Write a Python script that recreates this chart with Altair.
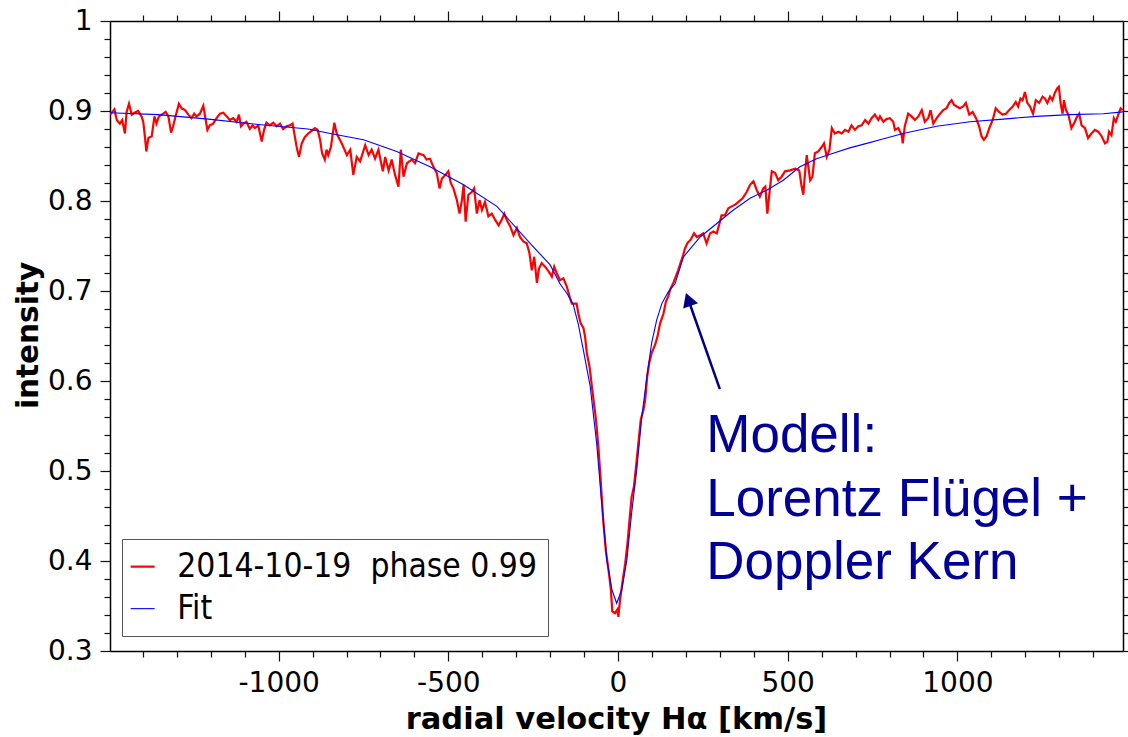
import altair as alt
import pandas as pd

# Observed H-alpha profile (radial velocity in km/s, normalised intensity)
spec_v = [
    -1497, -1492, -1484, -1477, -1468, -1461, -1453, -1448, -1441, -1433, -1425, -1414, -1404, -1399,
    -1394, -1390, -1384, -1374, -1366, -1360, -1353, -1340, -1333, -1325, -1317, -1311, -1304, -1294,
    -1286, -1276, -1266, -1257, -1249, -1242, -1232, -1222, -1215, -1210, -1203, -1193, -1183, -1173,
    -1163, -1153, -1144, -1134, -1124, -1117, -1111, -1104, -1095, -1085, -1077, -1070, -1060, -1050,
    -1043, -1036, -1026, -1016, -1006, -996, -987, -977, -967, -959, -952, -947, -940, -932, -923,
    -913, -903, -893, -885, -878, -872, -864, -859, -854, -846, -836, -829, -814, -799, -789, -780,
    -770, -760, -745, -735, -726, -716, -706, -693, -686, -676, -667, -657, -647, -640, -632, -622,
    -608, -598, -588, -573, -564, -554, -544, -534, -526, -519, -509, -500, -493, -485, -475, -467,
    -460, -455, -449, -441, -431, -424, -416, -408, -401, -392, -382, -372, -362, -352, -343, -335,
    -328, -318, -308, -298, -289, -279, -269, -261, -254, -247, -239, -233, -225, -215, -205, -195,
    -188, -181, -171, -161, -151, -143, -136, -122, -117, -110, -102, -97, -92, -84, -78, -71, -65,
    -58, -53, -48, -43, -36, -28, -21, -17, -9, -2, 1, 6, 14, 21, 28, 33, 40, 47, 53, 60, 67, 75,
    80, 86, 92, 99, 109, 116, 124, 134, 141, 148, 155, 163, 170, 177, 185, 192, 197, 204, 214, 224,
    232, 242, 251, 261, 271, 281, 291, 299, 305, 315, 325, 335, 345, 355, 367, 379, 389, 399, 409,
    418, 428, 434, 440, 446, 453, 463, 472, 482, 492, 507, 522, 534, 541, 546, 551, 556, 561, 566,
    573, 580, 590, 600, 607, 615, 623, 630, 639, 649, 659, 669, 679, 688, 698, 708, 718, 728, 738,
    747, 757, 767, 772, 782, 791, 801, 811, 816, 826, 836, 839, 845, 855, 865, 875, 885, 895, 904,
    914, 921, 929, 939, 949, 958, 968, 976, 983, 990, 998, 1007, 1017, 1025, 1035, 1045, 1055, 1064,
    1071, 1078, 1086, 1094, 1104, 1113, 1123, 1133, 1143, 1153, 1163, 1172, 1179, 1186, 1192, 1199,
    1206, 1214, 1223, 1231, 1241, 1251, 1258, 1265, 1273, 1280, 1287, 1294, 1299, 1304, 1310, 1314,
    1320, 1327, 1336, 1346, 1353, 1359, 1366, 1376, 1385, 1395, 1405, 1415, 1425, 1435, 1442, 1447,
    1454, 1461, 1467, 1474, 1481, 1487,
]
spec_i = [
    0.896, 0.898, 0.902, 0.890, 0.886, 0.890, 0.875, 0.899, 0.908, 0.896, 0.898, 0.900, 0.894, 0.888,
    0.871, 0.855, 0.870, 0.872, 0.894, 0.886, 0.894, 0.897, 0.899, 0.894, 0.876, 0.883, 0.894, 0.908,
    0.903, 0.901, 0.896, 0.892, 0.897, 0.894, 0.897, 0.906, 0.890, 0.879, 0.884, 0.886, 0.892, 0.897,
    0.898, 0.894, 0.890, 0.892, 0.888, 0.896, 0.883, 0.886, 0.888, 0.880, 0.884, 0.881, 0.884, 0.866,
    0.879, 0.887, 0.884, 0.887, 0.883, 0.886, 0.880, 0.883, 0.884, 0.886, 0.871, 0.860, 0.849, 0.864,
    0.871, 0.875, 0.878, 0.881, 0.879, 0.868, 0.853, 0.846, 0.857, 0.851, 0.860, 0.887, 0.875, 0.864,
    0.851, 0.857, 0.829, 0.849, 0.844, 0.862, 0.851, 0.857, 0.847, 0.857, 0.833, 0.849, 0.834, 0.846,
    0.829, 0.816, 0.857, 0.827, 0.842, 0.846, 0.842, 0.853, 0.851, 0.846, 0.847, 0.838, 0.831, 0.814,
    0.825, 0.829, 0.833, 0.820, 0.814, 0.801, 0.786, 0.801, 0.818, 0.777, 0.807, 0.810, 0.814, 0.786,
    0.801, 0.790, 0.799, 0.783, 0.786, 0.779, 0.773, 0.779, 0.786, 0.779, 0.772, 0.762, 0.770, 0.760,
    0.755, 0.753, 0.742, 0.723, 0.738, 0.709, 0.725, 0.731, 0.727, 0.722, 0.716, 0.727, 0.720, 0.712,
    0.714, 0.705, 0.694, 0.686, 0.686, 0.675, 0.664, 0.659, 0.649, 0.631, 0.616, 0.597, 0.575, 0.557,
    0.527, 0.501, 0.471, 0.442, 0.412, 0.390, 0.368, 0.344, 0.342, 0.346, 0.338, 0.357, 0.379, 0.397,
    0.420, 0.442, 0.471, 0.483, 0.505, 0.531, 0.557, 0.568, 0.579, 0.605, 0.620, 0.631, 0.640, 0.649,
    0.664, 0.675, 0.688, 0.694, 0.703, 0.709, 0.716, 0.723, 0.732, 0.740, 0.747, 0.753, 0.757, 0.764,
    0.760, 0.762, 0.764, 0.753, 0.764, 0.766, 0.764, 0.775, 0.784, 0.784, 0.792, 0.794, 0.796, 0.799,
    0.803, 0.810, 0.818, 0.822, 0.812, 0.805, 0.814, 0.816, 0.786, 0.808, 0.833, 0.831, 0.823, 0.827,
    0.833, 0.834, 0.836, 0.834, 0.816, 0.807, 0.831, 0.851, 0.838, 0.823, 0.827, 0.853, 0.855, 0.860,
    0.864, 0.849, 0.857, 0.881, 0.875, 0.877, 0.875, 0.879, 0.877, 0.884, 0.879, 0.883, 0.884, 0.890,
    0.886, 0.892, 0.896, 0.890, 0.894, 0.888, 0.891, 0.892, 0.888, 0.879, 0.881, 0.873, 0.864, 0.883,
    0.897, 0.894, 0.890, 0.894, 0.901, 0.888, 0.892, 0.901, 0.886, 0.892, 0.897, 0.901, 0.903, 0.909,
    0.912, 0.907, 0.905, 0.903, 0.905, 0.909, 0.896, 0.899, 0.892, 0.883, 0.872, 0.868, 0.872, 0.881,
    0.890, 0.903, 0.899, 0.896, 0.897, 0.901, 0.905, 0.910, 0.905, 0.914, 0.912, 0.921, 0.909, 0.905,
    0.897, 0.912, 0.909, 0.916, 0.914, 0.909, 0.916, 0.912, 0.920, 0.925, 0.927, 0.909, 0.897, 0.912,
    0.901, 0.896, 0.881, 0.888, 0.894, 0.897, 0.884, 0.881, 0.870, 0.875, 0.879, 0.877, 0.872, 0.864,
    0.866, 0.877, 0.873, 0.892, 0.888, 0.896, 0.903, 0.901,
]

# Fitted model profile (Lorentz wings + Doppler core)
fit_v = [
    -1497, -1355, -1207, -1060, -913, -848, -750, -652, -554, -455, -357, -259, -200, -171, -150,
    -132, -117, -102, -82, -63, -48, -33, -18, -4, 11, 26, 40, 55, 70, 85, 99, 114, 129, 148, 168,
    193, 242, 291, 340, 389, 438, 487, 536, 585, 634, 683, 733, 772, 840, 939, 1037, 1135, 1233,
    1331, 1430, 1488,
]
fit_i = [
    0.898, 0.896, 0.891, 0.885, 0.880, 0.875, 0.868, 0.855, 0.838, 0.818, 0.794, 0.753, 0.729, 0.708,
    0.697, 0.685, 0.663, 0.634, 0.594, 0.531, 0.464, 0.401, 0.368, 0.353, 0.368, 0.401, 0.453, 0.501,
    0.560, 0.605, 0.642, 0.668, 0.686, 0.699, 0.708, 0.738, 0.760, 0.775, 0.790, 0.803, 0.812, 0.823,
    0.838, 0.847, 0.853, 0.859, 0.864, 0.868, 0.875, 0.883, 0.888, 0.891, 0.894, 0.896, 0.897, 0.899,
]

series_names = ["2014-10-19\u00a0 phase 0.99", "Fit"]
series_colors = ["#ff0000", "#0000ff"]
series_widths = [2.2, 1.1]

note_lines = ["Modell:", "Lorentz Flügel +", "Doppler Kern"]
note_v = [260, 260, 260]
note_i = [0.521, 0.450, 0.380]

arrow_tail = (300, 0.591)
arrow_head = (207, 0.6906)

x_ticks = list(range(-1400, 1500, 100))
y_ticks = [round(0.30 + 0.02 * k, 2) for k in range(36)]

obs = pd.DataFrame({"v": spec_v, "I": spec_i, "series": series_names[0]})
fit = pd.DataFrame({"v": fit_v, "I": fit_i, "series": series_names[1]})
notes = pd.DataFrame({"v": note_v, "I": note_i, "txt": note_lines})
arrow = pd.DataFrame({"v": [arrow_tail[0]], "I": [arrow_tail[1]],
                      "v2": [arrow_head[0]], "I2": [arrow_head[1]]})

x_scale = alt.Scale(domain=[-1497, 1488], nice=False, zero=False)
y_scale = alt.Scale(domain=[0.3, 1.0], nice=False, zero=False)

x_major = "datum.value % 500 === 0"
y_major = "abs(datum.value * 10 - round(datum.value * 10)) < 0.001"

common_axis = dict(
    grid=False, domainColor="#000000", domainWidth=1.5,
    tickColor="#111111", tickWidth=1.2,
    labelFont="DejaVu Sans", labelFontSize=28, labelColor="#000000",
    labelOverlap=False, labelFlush=False,
)

x_axis = alt.Axis(
    orient="bottom", values=x_ticks,
    tickSize={"condition": {"test": x_major, "value": 10}, "value": 6},
    labelExpr="datum.value % 500 === 0 ? (datum.value < 0 ? '-' + abs(datum.value) : '' + datum.value) : ''",
    labelPadding=8,
    title="radial velocity Hα [km/s]", titleFont="DejaVu Sans", titleFontWeight="bold",
    titleFontSize=30.5, titleColor="#000000", titleX=506, titleY=77,
    titleBaseline="alphabetic", titleAlign="center",
    **common_axis,
)
y_axis = alt.Axis(
    orient="left", values=y_ticks,
    tickSize={"condition": {"test": y_major, "value": 10}, "value": 6},
    labelExpr=y_major + " ? format(datum.value, '.1~f') : ''",
    labelPadding=8,
    title="intensity", titleFont="DejaVu Sans", titleFontWeight="bold",
    titleFontSize=29.5, titleColor="#000000", titleX=-82, titleY=314,
    titleAngle=270, titleBaseline="middle", titleAlign="center",
    **common_axis,
)
top_axis = alt.Axis(
    orient="top", values=x_ticks, labels=False, title="",
    tickSize={"condition": {"test": x_major, "value": 10}, "value": 6},
    **common_axis,
)
right_axis = alt.Axis(
    orient="right", values=y_ticks, labels=False, title="",
    tickSize={"condition": {"test": y_major, "value": 10}, "value": 6},
    **common_axis,
)

legend = alt.Legend(
    title=None, orient="none", legendX=12, legendY=518,
    symbolType="stroke", symbolSize=576, symbolStrokeWidth=2, symbolOffset=-7,
    labelFont="DejaVu Sans Condensed", labelFontSize=33.3, labelColor="#000000",
    labelLimit=600, labelOffset=18, rowPadding=8, padding=11,
    strokeColor="#555555", fillColor="#ffffff",
)
color = alt.Color("series:N", scale=alt.Scale(domain=series_names, range=series_colors), legend=legend)
width_enc = alt.StrokeWidth("series:N", scale=alt.Scale(domain=series_names, range=series_widths), legend=legend)

obs_line = alt.Chart(obs).mark_line(clip=True).encode(
    x=alt.X("v:Q", scale=x_scale, axis=x_axis),
    y=alt.Y("I:Q", scale=y_scale, axis=y_axis),
    color=color, strokeWidth=width_enc,
)
fit_line = alt.Chart(fit).mark_line(clip=True).encode(
    x=alt.X("v:Q", scale=x_scale, axis=None),
    y=alt.Y("I:Q", scale=y_scale, axis=None),
    color=color, strokeWidth=width_enc,
)
frame = alt.Chart(fit).mark_line(opacity=0).encode(
    x=alt.X("v:Q", scale=x_scale, axis=top_axis),
    y=alt.Y("I:Q", scale=y_scale, axis=right_axis),
)
note_text = alt.Chart(notes).mark_text(
    align="left", baseline="alphabetic", font="Liberation Sans", fontSize=53, color="#000099",
).encode(
    x=alt.X("v:Q", scale=x_scale, axis=None),
    y=alt.Y("I:Q", scale=y_scale, axis=None),
    text="txt:N",
)
arrow_shaft = alt.Chart(arrow).mark_rule(color="#000080", strokeWidth=2.5).encode(
    x=alt.X("v:Q", scale=x_scale, axis=None),
    y=alt.Y("I:Q", scale=y_scale, axis=None),
    x2="v2:Q", y2="I2:Q",
)
arrow_tip = alt.Chart(arrow).mark_point(
    shape="triangle-up", filled=True, size=250, angle=340, color="#000080", opacity=1,
).encode(
    x=alt.X("v2:Q", scale=x_scale, axis=None),
    y=alt.Y("I2:Q", scale=y_scale, axis=None),
)

chart = alt.layer(
    obs_line, fit_line, note_text, arrow_shaft, arrow_tip, frame,
).resolve_axis(
    x="independent", y="independent",
).properties(
    width=1013, height=630,
    padding={"left": 110, "top": 21, "right": 5, "bottom": 86},
    autosize=alt.AutoSizeParams(type="none"),
    background="#ffffff",
).configure_view(stroke="transparent")

chart.save("out.html", embed_options={"renderer": "svg", "actions": False})
